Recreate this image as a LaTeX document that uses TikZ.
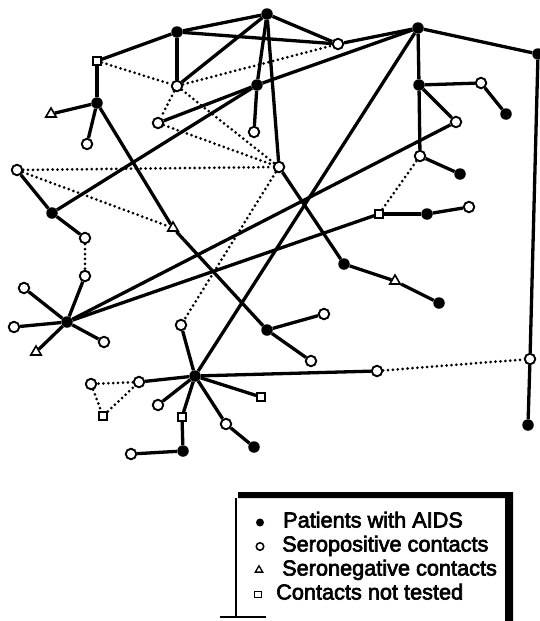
\documentclass[tikz,border=0pt]{standalone}
\usepackage{fontspec}
\setmainfont{Liberation Sans}
\newfontfamily\legfont[FakeBold=3]{Liberation Sans}
\usetikzlibrary{shapes.geometric}
\begin{document}
\begin{tikzpicture}[x=1pt,y=-1pt,
 aids/.style={circle,fill=black,inner sep=0pt,minimum size=11.5pt},
 seropos/.style={circle,draw=black,fill=white,line width=1.9pt,inner sep=0pt,minimum size=10.5pt},
 seroneg/.style={regular polygon,regular polygon sides=3,draw=black,fill=white,line width=1.6pt,inner sep=0pt,minimum size=12pt},
 nottested/.style={rectangle,draw=black,fill=white,line width=1.6pt,inner sep=0pt,minimum size=8pt},
 solidl/.style={line width=3.3pt},
 dotl/.style={line width=3pt,line cap=round,dash pattern=on 0pt off 4.9pt},
 legtext/.style={anchor=base west,inner sep=0pt,font=\legfont\fontsize{21.7}{24}\selectfont}
]
\useasboundingbox (0,0) rectangle (540,621);

% ---- nodes ----
\node[aids] (A1) at (267,14) {};
\node[aids] (A2) at (177,32) {};
\node[seropos] (O1) at (338,44) {};
\node[aids] (A3) at (257,85) {};
\node[seropos] (O2) at (177,86) {};
\node[seropos] (O3) at (158,123) {};
\node[nottested] (S1) at (97,61) {};
\node[aids] (B1) at (97,103) {};
\node[seroneg] (T1) at (51,114) {};
\node[seropos] (O4) at (87,144) {};
\node[seropos] (O5) at (17,170) {};
\node[aids] (B2) at (52,213) {};
\node[seropos] (O6) at (254,132) {};
\node[seroneg] (T2) at (173,228) {};
\node[aids] (A4) at (418,28) {};
\node[aids] (A5) at (538,54) {};
\node[aids] (A6) at (419,85) {};
\node[seropos] (O7) at (481,83) {};
\node[aids] (A7) at (506,114) {};
\node[seropos] (O8) at (456,122) {};
\node[seropos] (O9) at (420,156) {};
\node[aids] (A8) at (460,174) {};
\node[seropos] (O10) at (279,167) {};
\node[nottested] (S2) at (379,214) {};
\node[aids] (A9) at (427,214) {};
\node[seropos] (O11) at (469,207) {};
\node[aids] (A10) at (344,264) {};
\node[seroneg] (T3) at (395,281) {};
\node[aids] (A11) at (439,303) {};
\node[seropos] (O13) at (324,314) {};
\node[seropos] (O14) at (311,361) {};
\node[seropos] (O15) at (377,371) {};
\node[seropos] (O16) at (530,359) {};
\node[aids] (A12) at (528,425) {};
\node[aids] (A13) at (267,330) {};
\node[seropos] (O17) at (181,325) {};
\node[aids] (H2) at (195,376) {};
\node[seropos] (O18) at (139,382) {};
\node[nottested] (S3) at (261,397) {};
\node[seropos] (O19) at (158,405) {};
\node[nottested] (S4) at (182,417) {};
\node[seropos] (O20) at (226,424) {};
\node[aids] (A14) at (254,447) {};
\node[aids] (A15) at (183,451) {};
\node[seropos] (O21) at (131,454) {};
\node[nottested] (S5) at (103,416) {};
\node[seropos] (O22) at (91,384) {};
\node[seropos] (O23) at (85,238) {};
\node[seropos] (O24) at (85,276) {};
\node[seropos] (O25) at (24,288) {};
\node[aids] (H1) at (67,322) {};
\node[seropos] (O26) at (14,327) {};
\node[seropos] (O27) at (104,342) {};
\node[seroneg] (T4) at (36,352) {};

% ---- solid connectors ----
\foreach \a/\b in {A1/A2,S1/A2,A2/O1,A1/O1,A1/O2,A1/A3,A1/O10,A2/O2,A3/O6,A3/O3,
  A3/B2,A3/A4,A4/O1,A4/A5,A5/O16,O16/A12,A4/A6,A6/O7,O7/A7,A6/O8,A6/O9,O9/A8,
  O8/H1,S2/H1,S2/A9,A9/O11,A4/H2,O10/A10,A10/T3,T3/A11,B1/S1,B1/T1,B1/O4,B1/T2,
  T2/A13,B2/O5,B2/O23,O24/H1,H1/O25,H1/O26,H1/T4,H1/O27,O17/H2,H2/O15,H2/O18,
  H2/O19,H2/S4,S4/A15,A15/O21,H2/O20,O20/A14,H2/S3,A13/O13,A13/O14}
  \draw[solidl] (\a) -- (\b);

% ---- dotted connectors ----
\foreach \a/\b in {S1/O2,O2/O1,O2/O3,O2/O10,O3/O10,O5/O10,O5/T2,O10/O17,O9/S2,
  O15/O16,O23/O24,O18/O22,O22/S5,S5/O18}
  \draw[dotl] (\a) -- (\b);

% ---- legend ----
\fill (238,492) -- (513,492) -- (513,621) -- (505,621) -- (505,498) -- (238,498) -- cycle;
\draw[line width=1.6pt] (236,498) -- (236,617);
\draw[line width=1.6pt] (220,617) -- (266,617);
\node[aids,minimum size=8pt] (L1) at (260,522.5) {};
\node[seropos,minimum size=7.5pt,line width=1.5pt] (L2) at (260,546.5) {};
\node[seroneg,minimum size=8.5pt,line width=1.3pt] (L3) at (259,570) {};
\node[nottested,minimum size=6.5pt,line width=1.3pt] (L4) at (258,594.5) {};
\node[legtext] (T1L) at (283,527.5) {Patients with AIDS};
\node[legtext] (T2L) at (282,551.5) {Seropositive contacts};
\node[legtext] (T3L) at (282,575.5) {Seronegative contacts};
\node[legtext] (T4L) at (276,599.5) {Contacts not tested};
\end{tikzpicture}
\end{document}
